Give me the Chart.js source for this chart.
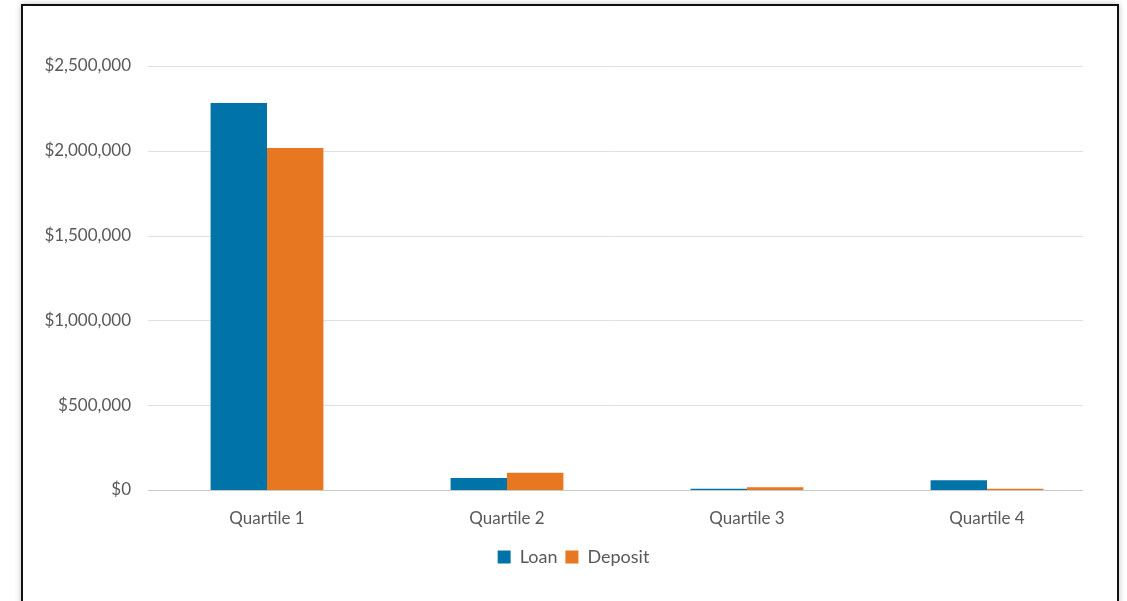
<!DOCTYPE html>
<html>
<head>
<meta charset="utf-8">
<script src="https://cdn.jsdelivr.net/npm/chart.js@4"></script>
<style>
    body { margin: 0; background: #fff; }
    #frame {
        position: absolute; left: 21px; top: 4px; width: 1094px; height: 640px;
        border: 2px solid #111; box-shadow: 0 0 6px rgba(0,0,0,0.25);
    }
    #wrap { position: absolute; left: 0; top: 0; width: 1127px; height: 601px; }
</style>
</head>
<body>
<div id="frame"></div>
<div id="wrap"><canvas id="myChart"></canvas></div>
<script>
const quartileLabels = ['Quartile 1', 'Quartile 2', 'Quartile 3', 'Quartile 4'];
const loanValues = [2282000, 71000, 8000, 57000];
const depositValues = [2016000, 102000, 16000, 7000];

// gridlines stop a bit short of the right edge, like the original
const shortGrid = {
    id: 'shortGrid',
    beforeDatasetsDraw(chart) {
        let ctx = chart.ctx;
        let y = chart.scales.y;
        let area = chart.chartArea;
        ctx.save();
        ctx.lineWidth = 1;
        y.ticks.forEach(t => {
            let py = Math.round(y.getPixelForValue(t.value)) + 0.5;
            ctx.strokeStyle = t.value === 0 ? '#c8c8c8' : '#e0e0e0';
            ctx.beginPath();
            ctx.moveTo(area.left + 1, py);
            ctx.lineTo(area.right - 24, py);
            ctx.stroke();
        });
        ctx.restore();
    }
};

const data = {
    labels: quartileLabels,
    datasets: [{
            label: 'Loan',
            data: loanValues,
            backgroundColor: '#0074A9',
            barPercentage: 1,
            categoryPercentage: 0.47
        }, {
            label: 'Deposit',
            data: depositValues,
            backgroundColor: '#E87722',
            barPercentage: 1,
            categoryPercentage: 0.47
        }]
};

const config = {
    type: 'bar',
    data: data,
    plugins: [shortGrid],
    options: {
        responsive: false,
        animation: false,
        layout: { padding: { left: 40, right: 20, top: 66, bottom: 25 } },
        plugins: {
            legend: {
                position: 'bottom',
                labels: {
                    boxWidth: 13, boxHeight: 13, padding: 8,
                    color: '#595959',
                    font: { family: 'Lato', size: 18 }
                }
            },
            tooltip: { enabled: false }
        },
        scales: {
            x: {
                grid: { display: false, drawTicks: false },
                border: { display: false },
                afterFit: s => { s.height = 50; },
                ticks: { color: '#595959', padding: 18, font: { family: 'Lato', size: 17 } }
            },
            y: {
                min: 0, max: 2500000,
                grid: { display: false, drawTicks: false },
                border: { display: false },
                afterFit: s => { s.width = 107; },
                ticks: {
                    stepSize: 500000, padding: 16, color: '#595959',
                    font: { family: 'Lato', size: 17 },
                    callback: v => '$' + v.toLocaleString('en-US')
                }
            }
        }
    }
};

let canvas = document.getElementById('myChart');
canvas.width = 1127;
canvas.height = 601;
new Chart(canvas.getContext('2d'), config);
</script>
</body>
</html>
